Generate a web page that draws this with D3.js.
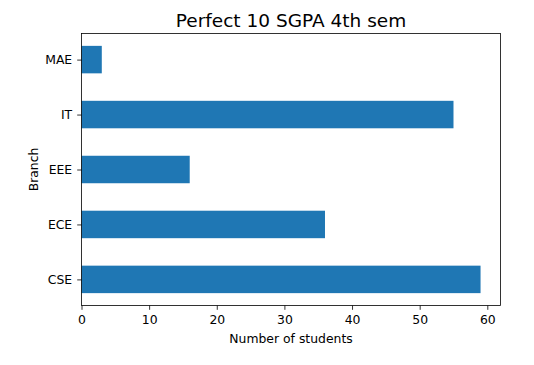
<!DOCTYPE html>
<html><head><meta charset="utf-8">
<script src="https://cdn.jsdelivr.net/npm/d3@7"></script>
<style>body{margin:0;background:#fff}svg{display:block}text{font-family:"DejaVu Sans",sans-serif;fill:#000}</style>
</head><body><svg id="c" width="534" height="365"></svg>
<script>
const branches = ["CSE","ECE","EEE","IT","MAE"];
const students = [59,36,16,55,3];
const xTicks = [0,10,20,30,40,50,60];
const title = "Perfect 10 SGPA 4th sem";
const xLabel = "Number of students";
const yLabel = "Branch";

const svg = d3.select("#c");
const L=81.5, R=500.5, T=33.5, B=305.5;
const xMax = d3.max(students)*1.05;
const x = d3.scaleLinear().domain([0,xMax]).range([L,R]);
const y = d3.scaleLinear().domain([-0.475, branches.length-1+0.475]).range([B,T]);
const barH = 0.5;

svg.append("g").selectAll("rect").data(branches).join("rect")
  .attr("x", x(0))
  .attr("y", (d,i)=>y(i+barH/2))
  .attr("width", (d,i)=>x(students[i])-x(0))
  .attr("height", (d,i)=>y(i-barH/2)-y(i+barH/2))
  .attr("fill","#1f77b4");

const xAxis = d3.axisBottom(x).tickValues(xTicks).tickSize(4.3).tickPadding(5.3).tickFormat(d3.format("d"));
const gx = svg.append("g").attr("transform",`translate(0,${B})`).call(xAxis);
gx.select(".domain").remove();
gx.selectAll("line").attr("stroke","#000").attr("stroke-width",0.8);
gx.selectAll("text").attr("font-size","12.4px").attr("font-family","DejaVu Sans").attr("fill","#000");

const yAxis = d3.axisLeft(y).tickValues(d3.range(branches.length)).tickFormat(i=>branches[i]).tickSize(4.3).tickPadding(5);
const gy = svg.append("g").attr("transform",`translate(${L},0)`).call(yAxis);
gy.select(".domain").remove();
gy.selectAll("line").attr("stroke","#000").attr("stroke-width",0.8);
gy.selectAll("text").attr("font-size","12.4px").attr("font-family","DejaVu Sans").attr("fill","#000");

svg.append("rect").attr("x",L).attr("y",T).attr("width",R-L).attr("height",B-T)
  .attr("fill","none").attr("stroke","#000").attr("stroke-width",0.8);

svg.append("text").attr("x",(L+R)/2).attr("y",27).attr("text-anchor","middle")
  .attr("font-size","18.5px").text(title);
svg.append("text").attr("x",(L+R)/2).attr("y",343).attr("text-anchor","middle")
  .attr("font-size","12.4px").text(xLabel);
svg.append("text").attr("transform",`translate(37.5,${(T+B)/2}) rotate(-90)`).attr("text-anchor","middle")
  .attr("font-size","12.4px").text(yLabel);
</script></body></html>
